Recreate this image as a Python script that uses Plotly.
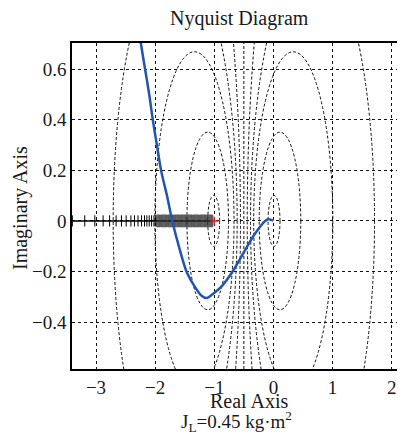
import plotly.graph_objects as go

# ---------------- data ----------------
curve_re = [-2.28, -2.24, -2.17, -2.10, -2.04, -1.97, -1.90, -1.80, -1.71, -1.60, -1.47, -1.33,
            -1.22, -1.13, -1.03, -0.88, -0.69, -0.51, -0.31, -0.14, -0.08, 0.0]
curve_im = [0.76, 0.70, 0.60, 0.50, 0.40, 0.30, 0.20, 0.10, 0.00, -0.10, -0.20, -0.26,
            -0.295, -0.305, -0.29, -0.26, -0.20, -0.128, -0.05, 0.00, 0.007, 0.001]

axis_pts_sparse = [-3.40, -3.19, -3.02, -2.88, -2.77, -2.66, -2.57, -2.49, -2.41, -2.35,
                   -2.29, -2.23, -2.18, -2.14, -2.10, -2.06, -2.02, -1.99]
axis_pts_dense = [-1.97, -1.95, -1.93, -1.91, -1.89, -1.87, -1.85, -1.83, -1.81, -1.79,
                  -1.77, -1.75, -1.73, -1.71, -1.69, -1.67, -1.65, -1.63, -1.61, -1.59,
                  -1.57, -1.55, -1.53, -1.51, -1.49, -1.47, -1.45, -1.43, -1.41, -1.39,
                  -1.37, -1.35, -1.33, -1.31, -1.29, -1.27, -1.25, -1.23, -1.21, -1.19,
                  -1.17, -1.15, -1.13, -1.11, -1.09, -1.07, -1.05, -1.03]
critical_pt = [-1.0]

m_db = [-20, -10, -6, -4, -2, 2, 4, 6, 10, 20]   # M-circle levels (dB); 0 dB is a line

x_ticks = [-3, -2, -1, 0, 1, 2]
x_tick_text = ["−3", "−2", "−1", "0", "1", "2"]
y_ticks = [-0.4, -0.2, 0, 0.2, 0.4, 0.6]
y_tick_text = ["−0.4", "−0.2", "0", "0.2", "0.4", "0.6"]
x_range = [-3.406, 2.225]
y_range = [-0.586, 0.704]

title_text = "Nyquist Diagram"
xlabel = "Real Axis"
ylabel = "Imaginary Axis"
caption = "J<sub>L</sub>=0.45 kg·m<sup>2</sup>"

FONT = "Liberation Serif"
TXT = "#1a1a1a"

fig = go.Figure()

# real-axis line with markers
fig.add_trace(go.Scatter(x=[x_range[0] - 0.1, axis_pts_dense[-1]], y=[0, 0], mode="lines",
                         line=dict(color="black", width=1.5), hoverinfo="skip", showlegend=False))
fig.add_trace(go.Scatter(x=axis_pts_dense, y=[0] * len(axis_pts_dense), mode="markers",
                         marker=dict(symbol="line-ns", size=9,
                                     line=dict(color="rgba(45,45,45,0.75)", width=1.5)),
                         hoverinfo="skip", showlegend=False))
fig.add_trace(go.Scatter(x=axis_pts_sparse, y=[0] * len(axis_pts_sparse), mode="markers",
                         marker=dict(symbol="line-ns", size=8, line=dict(color="black", width=1)),
                         hoverinfo="skip", showlegend=False))
fig.add_trace(go.Scatter(x=critical_pt, y=[0], mode="markers",
                         marker=dict(symbol="cross-thin", size=6, line=dict(color="#d42020", width=1.5)),
                         hoverinfo="skip", showlegend=False))

# Nyquist curve
fig.add_trace(go.Scatter(x=curve_re, y=curve_im, mode="lines",
                         line=dict(color="#2255b0", width=2.5, shape="spline", smoothing=0.8),
                         showlegend=False))

# M-circles as shapes
shapes = []
for db in m_db:
    M = 10 ** (db / 20)
    c = -M ** 2 / (M ** 2 - 1)
    r = abs(M / (M ** 2 - 1))
    shapes.append(dict(type="circle", xref="x", yref="y", x0=c - r, x1=c + r, y0=-r, y1=r,
                       line=dict(color="#111", width=1, dash="3px,2px"), layer="below"))
shapes.append(dict(type="line", xref="x", yref="paper", x0=-0.5, x1=-0.5, y0=0, y1=1,
                   line=dict(color="#111", width=1, dash="3px,2px"), layer="below"))

# page body has an 8px margin: figure starts at (8, 8) in the window
OFF = 8
L, T, W, H = 72, 43, 333, 326   # plot area in window pixels


def px(x):
    return (x - L) / W


def py(y):
    return (T + H - y) / H


annotations = [
    dict(text=title_text, x=px(240), y=py(19), xref="paper", yref="paper", showarrow=False,
         xanchor="center", yanchor="middle", font=dict(size=20, family=FONT, color=TXT)),
    dict(text=xlabel, x=px(249), y=py(401), xref="paper", yref="paper", showarrow=False,
         xanchor="center", yanchor="middle", font=dict(size=20, family=FONT, color=TXT)),
    dict(text=ylabel, x=px(20), y=py(208), xref="paper", yref="paper", showarrow=False,
         textangle=-90, xanchor="center", yanchor="middle", font=dict(size=20, family=FONT, color=TXT)),
    dict(text=caption, x=px(236), y=py(421), xref="paper", yref="paper", showarrow=False,
         xanchor="center", yanchor="middle", font=dict(size=19, family=FONT, color=TXT)),
]

fig.update_layout(
    template="none",
    width=405 - OFF, height=446 - OFF,
    margin=dict(l=L - OFF, r=0, t=T - OFF, b=446 - T - H, pad=0, autoexpand=False),
    paper_bgcolor="white", plot_bgcolor="white",
    shapes=shapes, annotations=annotations,
    font=dict(family=FONT, size=19, color=TXT),
    showlegend=False,
)
common = dict(showgrid=True, gridcolor="#111", gridwidth=1, griddash="3px,3px", zeroline=False,
              showline=True, linecolor="black", linewidth=1.5, mirror=True, ticks="",
              automargin=False, tickfont=dict(size=19, family=FONT, color=TXT))
fig.update_xaxes(range=x_range, tickvals=x_ticks, ticktext=x_tick_text, **common)
fig.update_yaxes(range=y_range, tickvals=y_ticks, ticktext=y_tick_text, **common)

fig.write_html("out.html")
